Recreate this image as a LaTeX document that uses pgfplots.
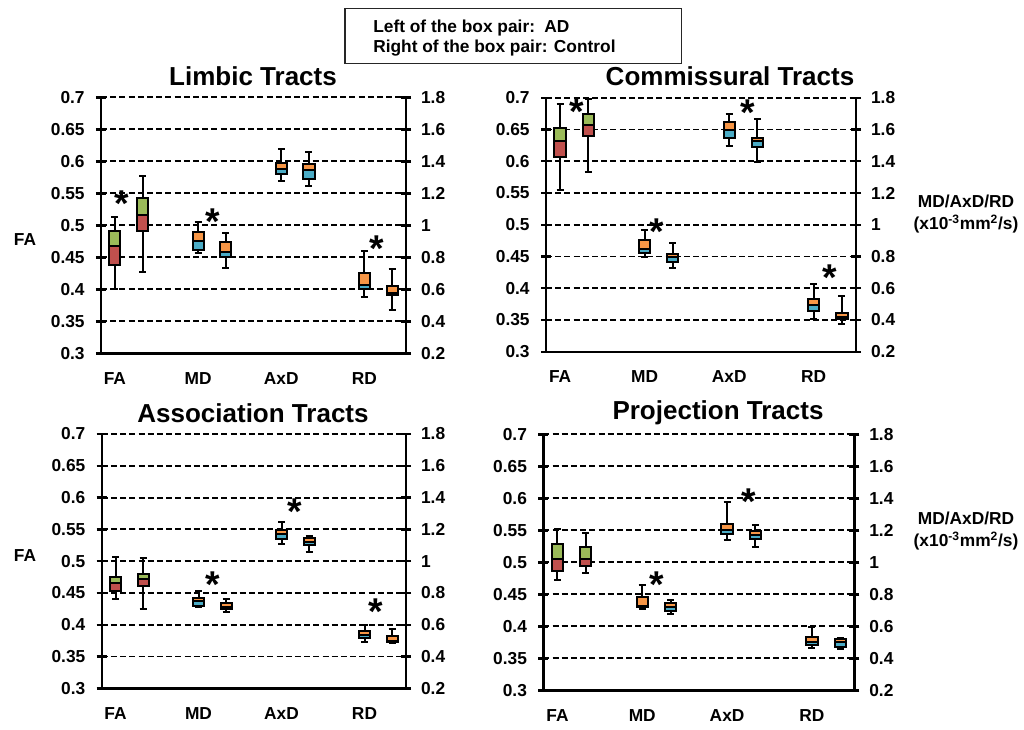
\documentclass[border=0pt]{standalone}
\usepackage{pgfplots}
\pgfplotsset{compat=1.18}
\usepackage{fontspec}
\setmainfont{Liberation Sans}

\definecolor{bxred}{RGB}{192,80,77}
\definecolor{bxgreen}{RGB}{155,187,89}
\definecolor{bxorange}{RGB}{247,150,70}
\definecolor{bxblue}{RGB}{75,172,198}

% box: position, lower whisker, Q1, median, Q3, upper whisker, lower colour, upper colour
\newcommand{\bx}[8]{%
  \pgfmathsetmacro\xa{#1-0.2}\pgfmathsetmacro\xb{#1+0.2}%
  \pgfmathsetmacro\ca{#1-0.125}\pgfmathsetmacro\cb{#1+0.125}%
  \addplot[black, line width=1.5pt] coordinates {(#1,#5) (#1,#6)};
  \addplot[black, line width=1.5pt] coordinates {(\ca,#6) (\cb,#6)};
  \addplot[black, line width=1.5pt] coordinates {(#1,#3) (#1,#2)};
  \addplot[black, line width=1.5pt] coordinates {(\ca,#2) (\cb,#2)};
  \addplot[draw=black, line width=1.5pt, fill=#7] coordinates {(\xa,#3) (\xb,#3) (\xb,#4) (\xa,#4)} -- cycle;
  \addplot[draw=black, line width=1.5pt, fill=#8] coordinates {(\xa,#4) (\xb,#4) (\xb,#5) (\xa,#5)} -- cycle;
}
\newcommand{\sig}[2]{\node[anchor=north, inner sep=0pt, font=\fontsize{28}{28}\selectfont\bfseries] at (axis cs:#1,#2) {*};}

\pgfplotsset{
  common/.style={scale only axis, anchor=south west, xmin=0, xmax=11, clip=false,
    axis line style={-, line width=1.8pt},
    tick align=center, major tick length=7.5pt,
    y tick style={line width=1.8pt, black},
    ticklabel style={font=\fontsize{13}{15}\selectfont\bfseries},
    /pgf/number format/assume math mode=true},
  fa axis/.style={common, ymin=0.3, ymax=0.7,
    axis x line*=bottom, axis y line*=left,
    ytick={0.3,0.35,0.4,0.45,0.5,0.55,0.6,0.65,0.7},
    ymajorgrids, grid style={black, line width=1.4pt, dash pattern=on 4.5pt off 2.4pt},
    xtick={0.5,3.5,6.5,9.5}, xticklabels={FA,MD,AxD,RD},
    x tick style={draw=none},
    xticklabel style={yshift=-7pt},
    yticklabel style={xshift=-5pt}},
  md axis/.style={common, ymin=0.2, ymax=1.8,
    axis y line*=right, axis x line=none,
    ytick={0.2,0.4,0.6,0.8,1,1.2,1.4,1.6,1.8},
    yticklabel style={xshift=4pt}}
}

\begin{document}
\begin{tikzpicture}
\begin{scope}[x=0.75pt, y=-0.75pt]
\useasboundingbox (0,0) rectangle (1024,729);
\end{scope}

% ---------- Limbic ----------
\begin{axis}[fa axis, at={(101*0.75pt,-353.3*0.75pt)}, width=305*0.75pt, height=256*0.75pt]
\bx{0.5}{0.4005}{0.4375}{0.4677}{0.4916}{0.5125}{bxred}{bxgreen}
\bx{1.5}{0.427}{0.4916}{0.516}{0.543}{0.5775}{bxred}{bxgreen}
\sig{0.75}{0.555}
\end{axis}
\begin{axis}[md axis, at={(101*0.75pt,-353.3*0.75pt)}, width=305*0.75pt, height=256*0.75pt]
\bx{3.5}{0.829}{0.844}{0.904}{0.96}{1.0225}{bxblue}{bxorange}
\bx{4.5}{0.735}{0.80}{0.835}{0.896}{0.95}{bxblue}{bxorange}
\sig{4.03}{1.106}
\bx{6.5}{1.279}{1.32}{1.354}{1.391}{1.475}{bxblue}{bxorange}
\bx{7.5}{1.246}{1.291}{1.346}{1.385}{1.46}{bxblue}{bxorange}
\bx{9.5}{0.554}{0.602}{0.627}{0.704}{0.841}{bxblue}{bxorange}
\bx{10.5}{0.469}{0.565}{0.575}{0.619}{0.727}{bxblue}{bxorange}
\sig{9.93}{0.935}
\end{axis}

% ---------- Commissural ----------
\begin{axis}[fa axis, at={(546*0.75pt,-351.7*0.75pt)}, width=310*0.75pt, height=254*0.75pt]
\bx{0.5}{0.554}{0.607}{0.632}{0.652}{0.690}{bxred}{bxgreen}
\bx{1.5}{0.5825}{0.640}{0.657}{0.674}{0.698}{bxred}{bxgreen}
\sig{1.09}{0.698}
\end{axis}
\begin{axis}[md axis, at={(546*0.75pt,-351.7*0.75pt)}, width=310*0.75pt, height=254*0.75pt]
\bx{3.5}{0.797}{0.823}{0.848}{0.904}{0.965}{bxblue}{bxorange}
\bx{4.5}{0.728}{0.762}{0.797}{0.813}{0.886}{bxblue}{bxorange}
\sig{3.93}{1.039}
\bx{6.5}{1.494}{1.546}{1.594}{1.647}{1.699}{bxblue}{bxorange}
\bx{7.5}{1.395}{1.489}{1.525}{1.546}{1.664}{bxblue}{bxorange}
\sig{7.17}{1.787}
\bx{9.5}{0.406}{0.456}{0.492}{0.531}{0.624}{bxblue}{bxorange}
\bx{10.5}{0.372}{0.404}{0.420}{0.441}{0.550}{bxblue}{bxorange}
\sig{10.07}{0.752}
\end{axis}

% ---------- Association ----------
\begin{axis}[fa axis, at={(101.7*0.75pt,-688.3*0.75pt)}, width=304.3*0.75pt, height=254.3*0.75pt]
\bx{0.5}{0.440}{0.4535}{0.465}{0.4755}{0.507}{bxred}{bxgreen}
\bx{1.5}{0.4247}{0.461}{0.472}{0.480}{0.505}{bxred}{bxgreen}
\end{axis}
\begin{axis}[md axis, at={(101.7*0.75pt,-688.3*0.75pt)}, width=304.3*0.75pt, height=254.3*0.75pt]
\bx{3.5}{0.709}{0.718}{0.749}{0.770}{0.812}{bxblue}{bxorange}
\bx{4.5}{0.680}{0.697}{0.713}{0.735}{0.762}{bxblue}{bxorange}
\sig{4.03}{0.933}
\bx{6.5}{1.108}{1.137}{1.168}{1.196}{1.248}{bxblue}{bxorange}
\bx{7.5}{1.055}{1.101}{1.122}{1.143}{1.160}{bxblue}{bxorange}
\sig{6.98}{1.395}
\bx{9.5}{0.489}{0.518}{0.535}{0.560}{0.598}{bxblue}{bxorange}
\bx{10.5}{0.487}{0.492}{0.500}{0.531}{0.571}{bxblue}{bxorange}
\sig{9.9}{0.762}
\end{axis}

% ---------- Projection ----------
\begin{axis}[fa axis, at={(543.3*0.75pt,-690.3*0.75pt)}, width=311*0.75pt, height=256*0.75pt]
\bx{0.5}{0.473}{0.486}{0.5047}{0.529}{0.552}{bxred}{bxgreen}
\bx{1.5}{0.483}{0.4947}{0.505}{0.524}{0.546}{bxred}{bxgreen}
\end{axis}
\begin{axis}[md axis, at={(543.3*0.75pt,-690.3*0.75pt)}, width=311*0.75pt, height=256*0.75pt]
\bx{3.5}{0.706}{0.719}{0.729}{0.781}{0.858}{bxblue}{bxorange}
\bx{4.5}{0.677}{0.698}{0.723}{0.744}{0.764}{bxblue}{bxorange}
\sig{4.01}{0.941}
\bx{6.5}{1.139}{1.177}{1.202}{1.241}{1.375}{bxblue}{bxorange}
\bx{7.5}{1.098}{1.146}{1.171}{1.196}{1.231}{bxblue}{bxorange}
\sig{7.25}{1.4625}
\bx{9.5}{0.466}{0.481}{0.504}{0.535}{0.598}{bxblue}{bxorange}
\bx{10.5}{0.458}{0.4725}{0.500}{0.519}{0.525}{bxblue}{bxorange}
\end{axis}

% ---------- titles, labels, key ----------
\begin{scope}[x=0.75pt, y=-0.75pt, font=\bfseries]
\node[font=\fontsize{19.5}{20}\selectfont\bfseries] at (253,76) {Limbic Tracts};
\node[font=\fontsize{19.5}{20}\selectfont\bfseries] at (730,76) {Commissural Tracts};
\node[font=\fontsize{19.5}{20}\selectfont\bfseries] at (253,413) {Association Tracts};
\node[font=\fontsize{19.5}{20}\selectfont\bfseries] at (718,413) {Projection Tracts};
\node[font=\fontsize{13}{15}\selectfont\bfseries] at (25,240) {FA};
\node[font=\fontsize{13}{15}\selectfont\bfseries] at (25,556) {FA};
\node[align=center, font=\fontsize{13}{16.5}\selectfont\bfseries] at (966,214)
  {MD/AxD/RD\\(x10\textsuperscript{-3}mm\textsuperscript{2}/s)};
\node[align=center, font=\fontsize{13}{16.5}\selectfont\bfseries] at (966,531)
  {MD/AxD/RD\\(x10\textsuperscript{-3}mm\textsuperscript{2}/s)};
\draw[line width=1pt, black!85] (345,8.3) rectangle (681.7,63.3);
\node[anchor=base west, inner sep=0pt, font=\fontsize{13}{15}\selectfont\bfseries] at (373,32.2) {Left of the box pair:};
\node[anchor=base west, inner sep=0pt, font=\fontsize{13}{15}\selectfont\bfseries] at (544,32.2) {AD};
\node[anchor=base west, inner sep=0pt, font=\fontsize{13}{15}\selectfont\bfseries] at (373,52.9) {Right of the box pair: Control};
\end{scope}
\end{tikzpicture}
\end{document}
